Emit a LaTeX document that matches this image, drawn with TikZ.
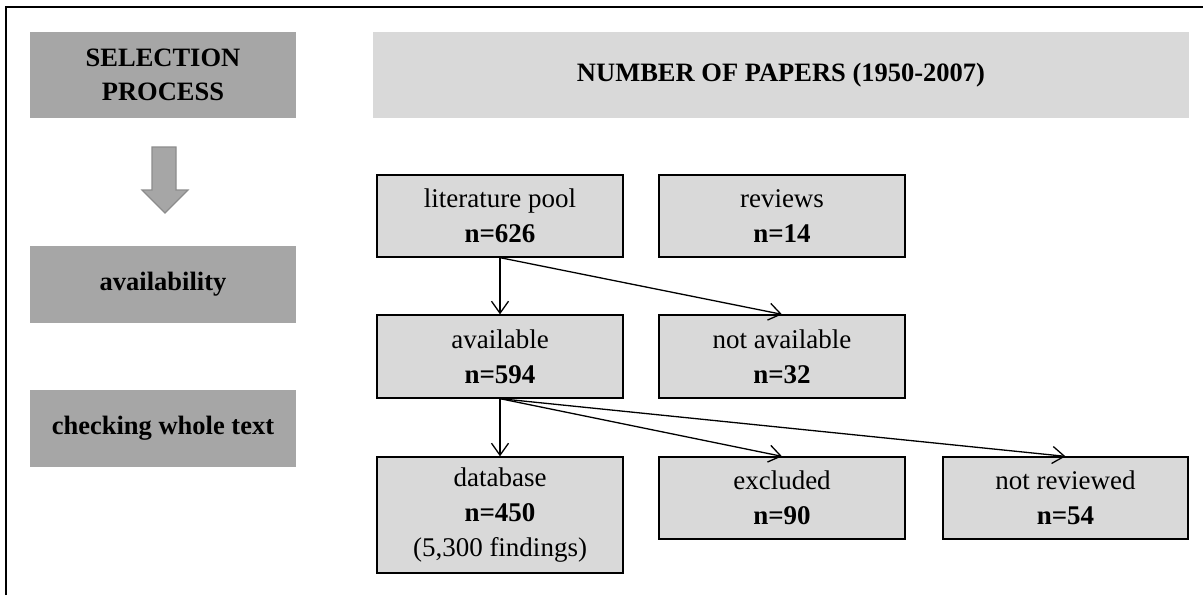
\documentclass[tikz,border=0pt]{standalone}
\usepackage{fontspec}
\setmainfont{Liberation Serif}
\usetikzlibrary{arrows.meta}
\definecolor{darkbox}{HTML}{A6A6A6}
\definecolor{lightbox}{HTML}{D9D9D9}
\definecolor{arrowedge}{HTML}{8C8C8C}
\tikzset{
  leftbox/.style={fill=darkbox, draw=none, minimum width=266pt, inner sep=0pt, align=center,
    font=\fontsize{26.5}{34}\selectfont\bfseries},
  headbox/.style={fill=lightbox, draw=none, minimum width=816pt, minimum height=86pt, inner sep=0pt,
    font=\fontsize{26.5}{34}\selectfont\bfseries},
  countbox/.style={fill=lightbox, draw=black, line width=1.3pt, minimum width=246pt, inner sep=0pt,
    align=center, font=\fontsize{27}{35}\selectfont},
  flow/.style={line width=1.3pt, -{Straight Barb[length=12pt,width=17pt,line width=1.3pt]}},
  frame/.style={line width=2pt, black}
}
\begin{document}
\begin{tikzpicture}[x=1pt,y=-1pt]
\useasboundingbox (0,0) rectangle (1203,595);
% outer frame (only top and left edges visible)
\draw[frame] (6,595) -- (6,7) -- (1203,7);

% left column
\node[leftbox, minimum height=86pt] (sel) at (163,75) {SELECTION\\PROCESS};
\node[leftbox, minimum height=77pt] (avl) at (163,284.5) {availability};
\node[leftbox, minimum height=77pt] (chk) at (163,428.5) {checking whole text};

% big gray down arrow
\draw[fill=darkbox, draw=arrowedge, line width=1.2pt]
  (152,147) -- (176,147) -- (176,190) -- (188,190) -- (165,213) -- (142,190) -- (152,190) -- cycle;

% header
\node[headbox] (head) at (781,75) {\raisebox{-5pt}{NUMBER OF PAPERS (1950-2007)}};

% count boxes
\node[countbox, minimum height=82pt] (lit) at (500,216) {literature pool\\\textbf{n=626}};
\node[countbox, minimum height=82pt] (rev) at (782,216) {reviews\\\textbf{n=14}};
\node[countbox, minimum height=83pt] (avail) at (500,356.5) {available\\\textbf{n=594}};
\node[countbox, minimum height=83pt] (notav) at (782,356.5) {not available\\\textbf{n=32}};
\node[countbox, minimum height=116pt] (db) at (500,515) {database\\\textbf{n=450}\\(5,300 findings)};
\node[countbox, minimum height=82pt] (excl) at (782,498) {excluded\\\textbf{n=90}};
\node[countbox, minimum height=82pt, minimum width=245pt] (notrev) at (1065.5,498) {not reviewed\\\textbf{n=54}};

% connectors
\draw[flow] (lit.south) -- (avail.north);
\draw[flow] (lit.south) -- (notav.north);
\draw[flow] (avail.south) -- (db.north);
\draw[flow] (avail.south) -- (excl.north);
\draw[flow] (avail.south) -- (notrev.north);
\end{tikzpicture}
\end{document}
